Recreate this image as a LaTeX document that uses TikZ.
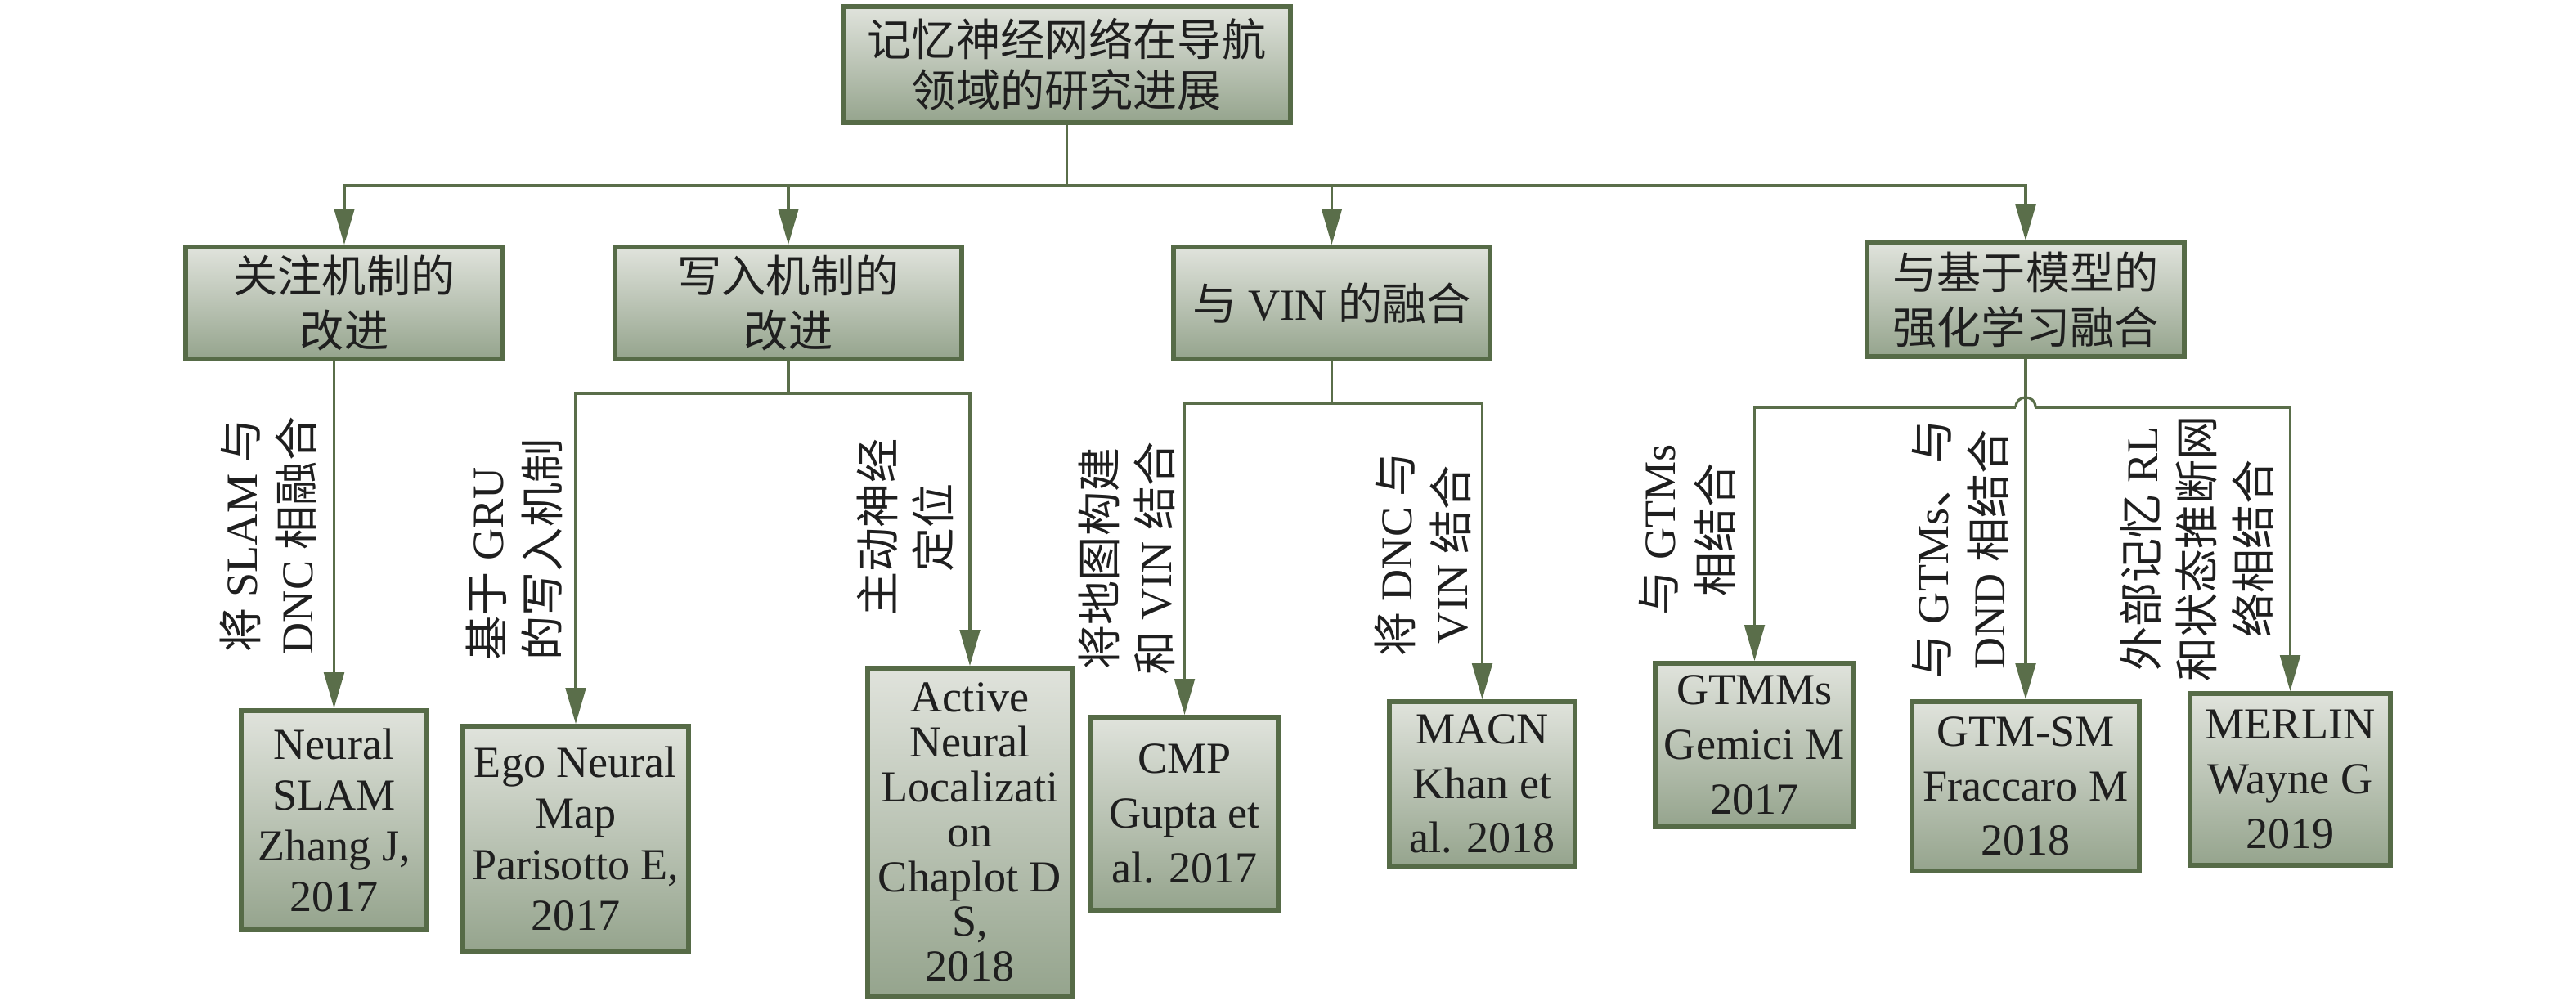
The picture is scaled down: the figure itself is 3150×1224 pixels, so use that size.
\documentclass[tikz,border=0pt]{standalone}
\usepackage{fontspec}
\setmainfont{Liberation Serif}
\newfontfamily\cjk{Noto Sans CJK SC}
\usetikzlibrary{arrows.meta,calc}
\definecolor{bord}{HTML}{566B47}
\definecolor{linec}{HTML}{5A6E4A}
\definecolor{topc}{HTML}{E0E3DC}
\definecolor{botc}{HTML}{95A48D}
\begin{document}
\begin{tikzpicture}[x=0.01cm,y=-0.01cm,
  box/.style={draw=bord, line width=1.6pt, top color=topc, bottom color=botc,
    inner sep=0pt, align=center, text=black!88, font=\fontsize{15.4}{19}\selectfont},
  conn/.style={draw=linec, line width=0.9pt},
  arr/.style={conn, -{Triangle[length=12.5pt,width=7pt]}},
  lab/.style={rotate=90, align=center, inner sep=0pt, text=black!88,
    font=\fontsize{15.4}{19.5}\selectfont}]
\useasboundingbox (0,0) rectangle (3150,1224);

% root
\node[box, minimum width=5.47cm, minimum height=1.42cm,
  font=\fontsize{15.4}{17.6}\selectfont\cjk] (root) at (1304.5,79)
  {记忆神经网络在导航\\领域的研究进展};

% level 2
\node[box, minimum width=3.88cm, minimum height=1.37cm] (B1) at (421,370.5)
  {{\cjk 关注机制的}\\{\cjk 改进}};
\node[box, minimum width=4.24cm, minimum height=1.37cm] (B2) at (964,370.5)
  {{\cjk 写入机制的}\\{\cjk 改进}};
\node[box, minimum width=3.87cm, minimum height=1.37cm] (B3) at (1628.5,370.5)
  {{\cjk 与} VIN {\cjk 的融合}};
\node[box, minimum width=3.88cm, minimum height=1.39cm] (B4) at (2477,366.5)
  {{\cjk 与基于模型的}\\{\cjk 强化学习融合}};

% leaves
\node[box, minimum width=2.27cm, minimum height=2.68cm,
  font=\fontsize{15.4}{17.6}\selectfont] (L1) at (408.5,1003)
  {Neural\\SLAM\\Zhang J,\\2017};
\node[box, minimum width=2.76cm, minimum height=2.75cm,
  font=\fontsize{15.4}{17.8}\selectfont] (L2) at (704,1025.5)
  {Ego Neural\\Map\\Parisotto E,\\2017};
\node[box, minimum width=2.50cm, minimum height=4.01cm,
  font=\fontsize{15.4}{15.6}\selectfont] (L3) at (1186,1017.5)
  {Active\\Neural\\Localizati\\on\\Chaplot D\\S,\\2018};
\node[box, minimum width=2.29cm, minimum height=2.36cm] (L4) at (1448.5,995)
  {CMP\\Gupta et\\al. 2017};
\node[box, minimum width=2.27cm, minimum height=2.01cm] (L5) at (1812.5,958.5)
  {MACN\\Khan et\\al. 2018};
\node[box, minimum width=2.43cm, minimum height=2.00cm] (L6) at (2145.5,911)
  {GTMMs\\Gemici M\\2017};
\node[box, minimum width=2.78cm, minimum height=2.07cm] (L7) at (2477,961.5)
  {GTM-SM\\Fraccaro M\\2018};
\node[box, minimum width=2.45cm, minimum height=2.10cm] (L8) at (2800.5,953)
  {MERLIN\\Wayne G\\2019};

% root connectors
\coordinate (j0) at (1304.5,227);
\draw[conn] (root.south) -- (j0);
\foreach \n in {B1,B2,B3,B4} \draw[arr] (j0) -| (\n.north);

% B1
\draw[arr] (L1.north |- B1.south) -- (L1.north);
% B2
\coordinate (j2) at (964,481);
\draw[conn] (B2.south) -- (j2);
\draw[arr] (j2) -| (L2.north);
\draw[arr] (j2) -| (L3.north);
% B3
\coordinate (j3) at (1628.5,493);
\draw[conn] (B3.south) -- (j3);
\draw[arr] (j3) -| (L4.north);
\draw[arr] (j3) -| (L5.north);
% B4
\coordinate (j4) at (2477,498);
\draw[arr] (B4.south) -- (L7.north);
\draw[arr] ($(j4)+(-12,0)$) -| (L6.north);
\draw[arr] ($(j4)+(12,0)$) -| (L8.north);
\draw[conn] ($(j4)+(-12,0)$) .. controls +(0,-16) and +(0,-16) .. ($(j4)+(12,0)$);

% labels
\node[lab] (t1) at (328,655) {{\cjk 将} SLAM {\cjk 与}\\DNC {\cjk 相融合}};
\node[lab, align=left] (t2) at (629,672) {{\cjk 基于} GRU\\{\cjk 的写入机制}};
\node[lab] (t3) at (1107,645) {{\cjk 主动神经}\\{\cjk 定位}};
\node[lab] (t4) at (1378,683) {{\cjk 将地图构建}\\{\cjk 和} VIN {\cjk 结合}};
\node[lab] (t5) at (1740,678) {{\cjk 将} DNC {\cjk 与}\\VIN {\cjk 结合}};
\node[lab] (t6) at (2063,648) {{\cjk 与} GTMs\\{\cjk 相结合}};
\node[lab] (t7) at (2397,672) {{\cjk 与} GTMs{\cjk 、与}\\DND {\cjk 相结合}};
\node[lab] (t8) at (2686,671) {{\cjk 外部记忆} RL\\{\cjk 和状态推断网}\\{\cjk 络相结合}};
\end{tikzpicture}
\end{document}
